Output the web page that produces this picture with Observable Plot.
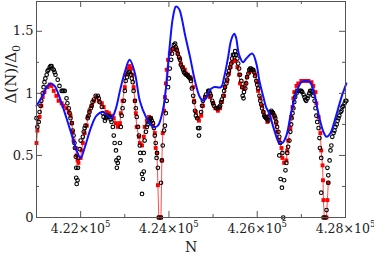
<!DOCTYPE html>
<html><head><meta charset="utf-8">
<script src="https://cdn.jsdelivr.net/npm/d3@7"></script>
<script src="https://cdn.jsdelivr.net/npm/@observablehq/plot@0.6"></script>
<style>
body{margin:0;background:#fff}
</style>
</head><body><div id="chart"></div>
<script>
const xMajor = [422000, 424000, 426000, 428000];
const xMinor = [421000, 423000, 425000, 427000];
const yMajor = [0, 0.5, 1, 1.5];
const yMinor = [0.25, 0.75, 1.25];

// blue smooth curve [N, Δ(N)/Δ0]
const blueLine = [
[421000,0.90],[421140,0.98],[421230,1.05],[421320,1.08],[421410,1.06],[421550,0.94],[421680,0.80],[421820,0.64],[421930,0.52],[422000,0.48],
[422090,0.56],[422230,0.72],[422360,0.82],[422500,0.85],[422610,0.82],[422700,0.80],[422800,0.88],[422890,1.02],[423000,1.17],[423110,1.27],
[423230,1.16],[423340,0.94],[423480,0.81],[423640,0.73],[423750,0.74],[423860,0.86],[423950,1.10],[424020,1.39],[424090,1.61],[424160,1.70],
[424230,1.68],[424300,1.59],[424360,1.48],[424480,1.29],[424590,1.10],[424700,0.97],[424770,0.94],[424840,0.96],[424910,1.02],[425020,1.05],
[425180,1.05],[425250,1.13],[425340,1.29],[425410,1.43],[425480,1.48],[425520,1.45],[425590,1.31],[425680,1.25],[425750,1.28],[425890,1.32],
[425980,1.24],[426050,1.10],[426140,0.97],[426200,0.89],[426270,0.84],[426390,0.70],[426500,0.60],[426570,0.60],[426660,0.66],[426770,0.85],
[426890,1.01],[427000,1.09],[427110,1.10],[427200,1.09],[427300,0.98],[427410,0.80],[427500,0.69],[427570,0.65],[427660,0.68],[427770,0.80],
[427910,0.97],[428020,1.08]
];

// red series with square markers
const redLine = [
[421000,0.60],[421020,0.70],[421070,0.81],[421110,0.90],[421140,0.97],[421180,1.01],[421250,1.05],[421300,1.07],[421340,1.06],[421390,1.02],
[421450,0.98],[421500,0.94],[421570,0.92],[421610,0.90],[421680,0.88],[421730,0.85],[421770,0.82],[421800,0.76],[421820,0.69],[421840,0.62],
[421890,0.56],[421910,0.50],[421930,0.46],[421950,0.44],[422000,0.48],[422020,0.54],[422050,0.60],[422090,0.68],[422140,0.74],[422160,0.81],
[422200,0.86],[422250,0.90],[422300,0.94],[422360,0.97],[422410,0.94],[422480,0.92],[422520,0.89],[422590,0.85],[422640,0.84],[422700,0.82],
[422750,0.80],[422800,0.76],[422840,0.73],[422890,0.76],[422910,0.84],[422950,0.94],[423000,1.05],[423020,1.15],[423070,1.20],[423110,1.22],
[423140,1.20],[423180,1.15],[423200,1.05],[423230,0.94],[423250,0.84],[423270,0.73],[423320,0.65],[423340,0.60],[423390,0.58],[423430,0.65],
[423450,0.73],[423500,0.78],[423550,0.81],[423590,0.80],[423640,0.74],[423680,0.68],[423700,0.56],[423730,0.52],[423750,0.26],[423770,0],
[423820,0],[423840,0.46],[423860,0.68],[423890,0.86],[423910,0.97],[423930,1.08],[423950,1.19],[423980,1.27],[424020,1.32],[424050,1.35],
[424090,1.36],[424140,1.36],[424160,1.35],[424200,1.32],[424250,1.28],[424270,1.24],[424320,1.21],[424360,1.19],[424390,1.16],[424430,1.15],
[424480,1.13],[424500,1.12],[424550,1.05],[424570,0.94],[424610,0.85],[424660,0.80],[424680,0.78],[424730,0.82],[424770,0.90],[424820,0.97],
[424890,1.00],[424930,0.97],[425000,0.92],[425050,0.88],[425110,0.86],[425160,0.88],[425200,0.93],[425250,0.98],[425270,1.05],[425320,1.10],
[425360,1.16],[425390,1.21],[425430,1.25],[425480,1.27],[425500,1.26],[425550,1.21],[425590,1.15],[425610,1.08],[425660,1.05],[425700,1.04],
[425730,1.08],[425770,1.13],[425820,1.17],[425860,1.19],[425910,1.18],[425950,1.15],[426000,1.09],[426020,1.02],[426070,0.96],[426110,0.90],
[426140,0.85],[426180,0.81],[426230,0.77],[426270,0.82],[426320,0.84],[426340,0.84],[426390,0.81],[426430,0.76],[426450,0.69],[426500,0.62],
[426550,0.56],[426570,0.48],[426610,0.44],[426660,0.46],[426680,0.54],[426700,0.62],[426750,0.72],[426770,0.81],[426800,0.89],[426820,0.96],
[426840,1.01],[426890,1.06],[426930,1.08],[427000,1.10],[427050,1.10],[427110,1.10],[427160,1.10],[427230,1.09],[427270,1.06],[427320,1.01],
[427340,0.92],[427390,0.81],[427430,0.68],[427450,0.54],[427480,0.42],[427490,0.30],[427500,0.14],[427520,0],[427570,0],[427590,0.14],
[427610,0.28]
];

// black open circles
const blackPts = [
[421000,0.80],[421020,0.73],[421050,0.77],[421070,0.85],[421090,0.90],[421110,0.94],[421140,1.00],[421160,1.05],[421180,1.09],[421200,1.12],
[421230,1.15],[421250,1.18],[421270,1.19],[421300,1.21],[421320,1.22],[421340,1.22],[421360,1.20],[421390,1.19],[421410,1.17],[421430,1.15],
[421480,1.11],[421520,1.06],[421570,1.02],[421590,1.02],[421610,1.02],[421640,1.02],[421680,0.96],[421700,0.92],[421730,0.88],[421750,0.84],
[421770,0.80],[421800,0.76],[421820,0.70],[421840,0.66],[421860,0.60],[421870,0.56],[421890,0.49],[421900,0.40],[421900,0.32],[421910,0.27],
[421930,0.30],[421940,0.40],[421950,0.48],[421980,0.55],[422000,0.62],[422050,0.65],[422070,0.69],[422090,0.72],[422110,0.74],[422160,0.80],
[422180,0.82],[422200,0.85],[422230,0.88],[422250,0.90],[422270,0.93],[422300,0.95],[422340,0.98],[422390,0.98],[422410,0.96],[422430,0.93],
[422480,0.89],[422500,0.84],[422520,0.81],[422550,0.78],[422570,0.80],[422590,0.81],[422610,0.82],[422640,0.81],[422660,0.81],[422680,0.79],
[422700,0.77],[422730,0.73],[422750,0.66],[422770,0.60],[422800,0.54],[422810,0.46],[422820,0.40],[422840,0.44],[422860,0.48],[422890,0.60],
[422910,0.73],[422930,0.82],[422950,0.88],[422980,0.94],[423000,1.02],[423020,1.10],[423050,1.13],[423070,1.16],[423090,1.17],[423110,1.17],
[423140,1.15],[423160,1.12],[423180,1.09],[423200,1.02],[423230,0.94],[423250,0.88],[423270,0.81],[423300,0.73],[423320,0.66],[423340,0.58],
[423350,0.52],[423360,0.46],[423390,0.35],[423390,0.19],[423410,0.31],[423430,0.37],[423430,0.52],[423450,0.62],[423480,0.69],[423500,0.73],
[423520,0.75],[423550,0.77],[423570,0.79],[423590,0.80],[423610,0.78],[423640,0.76],[423660,0.72],[423680,0.66],[423700,0.60],[423720,0.48],
[423730,0.52],[423750,0.40],[423770,0],[423820,0],[423820,0.28],[423840,0.46],[423860,0.58],[423890,0.70],[423910,0.74],[423930,0.84],
[423950,0.94],[423980,1.05],[424000,1.12],[424020,1.20],[424050,1.27],[424070,1.32],[424090,1.36],[424110,1.39],[424140,1.40],[424160,1.37],
[424180,1.35],[424200,1.32],[424230,1.29],[424250,1.27],[424270,1.23],[424300,1.21],[424320,1.19],[424340,1.17],[424360,1.16],[424390,1.15],
[424410,1.15],[424430,1.14],[424450,1.13],[424480,1.12],[424500,1.10],[424520,1.04],[424550,0.98],[424570,0.93],[424590,0.86],[424610,0.82],
[424640,0.80],[424660,0.72],[424680,0.66],[424690,0.72],[424730,0.85],[424750,0.90],[424770,0.94],[424820,0.97],[424840,0.99],[424890,1.02],
[424910,1.02],[424930,1.00],[424950,0.98],[424980,0.94],[425000,0.92],[425020,0.90],[425070,0.88],[425110,0.88],[425140,0.89],[425160,0.90],
[425180,0.93],[425200,0.95],[425230,0.98],[425250,1.02],[425270,1.05],[425300,1.08],[425320,1.11],[425340,1.15],[425360,1.18],[425390,1.21],
[425410,1.24],[425430,1.28],[425450,1.31],[425480,1.31],[425500,1.34],[425520,1.31],[425550,1.28],[425570,1.24],[425590,1.20],[425610,1.15],
[425640,1.10],[425660,1.05],[425670,0.98],[425690,0.96],[425700,1.01],[425730,1.04],[425750,1.08],[425770,1.13],[425800,1.16],[425820,1.19],
[425840,1.20],[425860,1.20],[425890,1.19],[425910,1.19],[425930,1.17],[425950,1.14],[425980,1.10],[426000,1.07],[426020,1.04],[426050,0.98],
[426070,0.94],[426090,0.91],[426110,0.88],[426140,0.85],[426160,0.82],[426180,0.81],[426200,0.80],[426230,0.79],[426250,0.78],[426270,0.81],
[426300,0.85],[426320,0.86],[426340,0.85],[426360,0.84],[426390,0.82],[426410,0.80],[426430,0.77],[426450,0.73],[426480,0.69],[426500,0.65],
[426500,0.50],[426520,0.60],[426530,0.31],[426560,0.24],[426570,0.52],[426590,0],[426610,0.30],[426640,0.38],[426660,0.44],[426680,0.52],
[426700,0.57],[426730,0.62],[426750,0.69],[426770,0.75],[426780,0.80],[426800,0.84],[426820,0.88],[426840,0.93],[426860,0.97],[426890,1.00],
[426910,1.02],[426930,1.02],[426950,1.02],[426980,1.02],[427000,1.02],[427020,1.01],[427050,0.99],[427070,0.97],[427090,0.95],[427110,0.94],
[427140,0.96],[427160,0.98],[427180,1.00],[427200,1.02],[427230,1.02],[427250,1.01],[427270,0.98],[427300,0.94],[427320,0.88],[427340,0.82],
[427360,0.77],[427390,0.72],[427410,0.64],[427420,0.56],[427450,0.48],[427450,0.20],[427500,0],[427550,0],[427570,0.06],[427590,0.40],
[427610,0.34],[427610,0.28],[427640,0.46],[427660,0.54],[427680,0.58],[427700,0.65],[427730,0.68],[427750,0.70],[427770,0.73],[427800,0.75],
[427820,0.78],[427840,0.80],[427860,0.82],[427890,0.85],[427910,0.86],[427930,0.89],[427950,0.90],[427980,0.92],[428000,0.94],[428020,0.94]
];

const serif = "DejaVu Serif";
const axisColor = "#555";

const chart = Plot.plot({
  width: 374, height: 253,
  marginLeft: 36, marginRight: 29, marginTop: 1, marginBottom: 36,
  style: {fontFamily: serif, background: "#fff", overflow: "visible"},
  x: {domain: [421000, 428000]},
  y: {domain: [0, 1.74]},
  marks: [
    Plot.line(redLine, {x: d => d[0], y: d => d[1], stroke: "#ff2020", strokeWidth: 0.8}),
    Plot.dot(redLine, {x: d => d[0], y: d => d[1], symbol: "square", r: 2.2, fill: "#ff0000", stroke: "none"}),
    Plot.dot(blackPts, {x: d => d[0], y: d => d[1], r: 1.8, stroke: "black", strokeWidth: 1.1, fill: "none"}),
    Plot.line(blueLine, {x: d => d[0], y: d => d[1], stroke: "#1010ff", strokeWidth: 2, curve: "catmull-rom"}),
    // inward ticks on all four sides
    Plot.tickX(xMajor, {x: d => d, insetTop: 210, stroke: axisColor}),
    Plot.tickX(xMinor, {x: d => d, insetTop: 213, stroke: axisColor}),
    Plot.tickX(xMajor, {x: d => d, insetBottom: 210, stroke: axisColor}),
    Plot.tickX(xMinor, {x: d => d, insetBottom: 213, stroke: axisColor}),
    Plot.tickY(yMajor, {y: d => d, insetRight: 303, stroke: axisColor}),
    Plot.tickY(yMinor, {y: d => d, insetRight: 306, stroke: axisColor}),
    Plot.tickY(yMajor, {y: d => d, insetLeft: 303, stroke: axisColor}),
    Plot.tickY(yMinor, {y: d => d, insetLeft: 306, stroke: axisColor}),
    Plot.frame({stroke: axisColor, strokeWidth: 1}),
    Plot.axisX(xMajor, {tickSize: 0, tickPadding: 7, fontSize: 12.5, fontFamily: serif, fill: "#222", label: null,
      tickFormat: d => (d / 1e5).toFixed(2) + "×10"}),
    Plot.axisY(yMajor, {tickSize: 0, tickPadding: 3, fontSize: 13, fontFamily: serif, fill: "#222", label: null,
      tickFormat: d => String(d)}),
    Plot.text(["N"], {frameAnchor: "bottom", dy: 34, fontSize: 14, fontFamily: serif, fill: "#222", lineAnchor: "bottom"}),
    Plot.text(["Δ(N)/Δ"], {frameAnchor: "left", dx: -25, dy: -6, rotate: -90, fontSize: 15, fontFamily: serif, fill: "#222"})
  ]
});

// superscripts / subscripts
chart.querySelectorAll("text").forEach(t => {
  const s = t.textContent;
  if (s.endsWith("×10")) {
    const sp = document.createElementNS("http://www.w3.org/2000/svg", "tspan");
    sp.setAttribute("font-size", "8.5");
    sp.setAttribute("dy", "-6");
    sp.textContent = "5";
    t.appendChild(sp);
  } else if (s === "Δ(N)/Δ") {
    const sp = document.createElementNS("http://www.w3.org/2000/svg", "tspan");
    sp.setAttribute("font-size", "11");
    sp.setAttribute("dy", "4");
    sp.textContent = "0";
    t.appendChild(sp);
  }
});
document.getElementById("chart").appendChild(chart);
</script>
</body></html>
